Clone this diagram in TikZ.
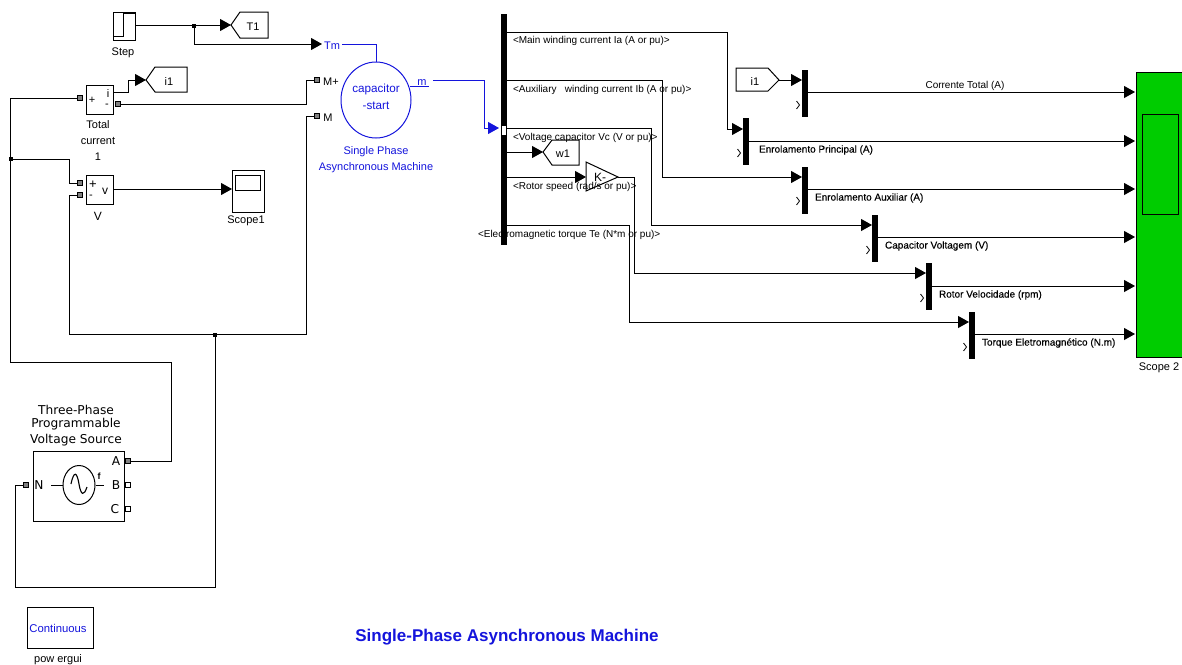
\documentclass[tikz,border=0pt]{standalone}
\usepackage{fontspec}
\setmainfont{Liberation Sans}
\newfontfamily\dejavu{DejaVu Sans}
\usetikzlibrary{arrows.meta,shapes.geometric}
\definecolor{simblue}{RGB}{20,20,220}
\definecolor{simgreen}{RGB}{0,204,0}
\tikzset{
  sig/.style={draw=black,line width=1pt,-{Triangle[length=11pt,width=12pt]}},
  wire/.style={draw=black,line width=1pt},
  bluesig/.style={draw=simblue,line width=1pt,-{Triangle[length=11pt,width=12pt]}},
  bluewire/.style={draw=simblue,line width=1pt},
  block/.style={draw=black,line width=1pt,inner sep=0pt,outer sep=0pt,fill=white},
  bar/.style={fill=black,draw=none,inner sep=0pt,outer sep=0pt,minimum width=6pt},
  port/.style={draw=black,line width=0.8pt,fill=gray,inner sep=0pt,outer sep=0pt,minimum size=4.5pt},
  hport/.style={draw=black,line width=0.8pt,fill=white,inner sep=0pt,outer sep=0pt,minimum size=4.5pt},
  txt/.style={font=\fontsize{11}{12}\selectfont,inner sep=0pt,outer sep=0pt,yshift=-1.5pt},
  lab/.style={font=\fontsize{10}{11}\selectfont,inner sep=0pt,outer sep=0pt,anchor=west,yshift=-1pt},
  blab/.style={font=\fontsize{10}{11}\selectfont\addfontfeature{FakeBold=0.3},inner sep=0pt,outer sep=0pt,anchor=west,yshift=-1pt},
  btxt/.style={txt,text=simblue},
  dtxt/.style={font=\dejavu\fontsize{12.2}{13}\selectfont,inner sep=0pt,outer sep=0pt,yshift=-0.5pt},
  dot/.style={fill=black,inner sep=0pt,minimum size=4pt},
  chev/.style={draw=black,line width=0.8pt},
}
\begin{document}
\begin{tikzpicture}[x=1pt,y=-1pt]
\useasboundingbox (0,0) rectangle (1182,664);
% ---------- left blocks
\node[block,minimum width=22pt,minimum height=28pt] (step) at (124,26) {};
\draw[line width=0.8pt] (113,36)--(123,36)--(123,13)--(135,13);
\node[txt] (steplab) at (123,51) {Step};
\coordinate (t1tip) at (231,25);
\draw[line width=1pt] (231,25)--(240,12)--(268,12)--(268,38)--(240,38)--cycle;
\node[txt] (t1) at (253,25) {T1};
\node[dot] (j1) at (194,26) {};
\coordinate (stepout) at (135,25);
\draw[sig] (stepout) -- (t1tip);

\node[block,minimum width=27pt,minimum height=29pt] (tc) at (100,99.5) {};
\node[txt] (tcplus) at (92,99) {+};
\node[txt] (tci) at (108,92) {i};
\node[txt] (tcminus) at (107,104) {-};
\node[txt] (tcl1) at (98,123) {Total};
\node[txt] (tcl2) at (98,139) {current};
\node[txt] (tcl3) at (98,155) {1};
\node[port] (tcin) at (80,98) {};
\node[port] (tcout) at (118,104) {};
\coordinate (i1tip) at (146,80);
\draw[line width=1pt] (146,80)--(155,67)--(187,67)--(187,92)--(155,92)--cycle;
\node[txt] (i1a) at (169,80) {i1};
\coordinate (tcio) at (114,92);
\coordinate (tcb) at (128,92);
\coordinate (tcc) at (128,80);
\draw[sig] (tcio) -- (tcb) -- (tcc) -- (i1tip);

\node[block,minimum width=27pt,minimum height=29pt] (v) at (100,189.5) {};
\node[txt,font=\fontsize{13}{13}\selectfont] (vplus) at (93,183) {+};
\node[txt] (vminus) at (91,195) {-};
\node[txt,font=\fontsize{12}{12}\selectfont] (vv) at (105,190) {v};
\node[txt,font=\fontsize{12}{12}\selectfont] (vlab) at (98,215) {V};
\node[port] (vp) at (80,183) {};
\node[port] (vm) at (80,195) {};

\node[block,minimum width=32pt,minimum height=42pt] (sc1) at (248,191) {};
\node[draw=black,line width=1pt,inner sep=0pt,minimum width=25pt,minimum height=15pt] (sc1s) at (247.5,182.5) {};
\node[txt] (sc1l) at (246,219) {Scope1};
\coordinate (vout) at (114,189);
\draw[sig] (vout) -- (sc1.west |- vout);

% ---------- machine
\node[draw=simblue,line width=1pt,ellipse,inner sep=0pt,minimum width=70pt,minimum height=76pt] (mach) at (376,100) {};
\node[btxt,font=\fontsize{11.7}{12}\selectfont] (capa) at (376,88) {capacitor};
\node[btxt,font=\fontsize{11.7}{12}\selectfont] (capb) at (376,104) {-start};
\node[btxt] (ml1) at (376,150) {Single Phase};
\node[btxt] (ml2) at (376,166) {Asynchronous Machine};
\node[btxt] (tm) at (332,44) {Tm};
\node[btxt] (mm) at (422,81) {m};
\node[txt] (mplus) at (331,80) {M+};
\node[txt] (mminus) at (328,116) {M};
\node[port] (mpp) at (317,80) {};
\node[port] (mmp) at (317,116) {};
\coordinate (tmtip) at (322,44);
\coordinate (tmr) at (342,44);
\coordinate (tmc) at (376,44);
\draw[bluewire] (tmr) -- (tmc) -- (mach.north);
\coordinate (mo1) at (410,86);
\coordinate (mo2) at (429,86);
\draw[bluewire] (mo1) -- (mo2);
\draw[sig] (j1.center) -- (194,44) -- (tmtip);
\draw[wire] (tcout) -- (306,104) -- (306,80) -- (mpp);

% ---------- bus selector
\node[bar,minimum width=6.5pt,minimum height=231pt] (bus) at (503.8,129.5) {};
\node[fill=white,inner sep=0pt,minimum width=4pt,minimum height=9pt] (busin) at (503.5,130) {};
\coordinate (bustip) at (499,128);
\coordinate (mo3) at (433,80);
\draw[bluesig] (mo3) -- (484,80) -- (484,128) -- (bustip);

\node[lab] (la) at (513,40) {<Main winding current Ia (A or pu)>};
\node[lab] (lb) at (513,89) {<Auxiliary\ \ \ winding current Ib (A or pu)>};
\node[lab] (lc) at (513,137) {<Voltage capacitor Vc (V or pu)>};
\node[lab] (ld) at (513,186) {<Rotor speed (rad/s or pu)>};
\node[lab] (le) at (478,234) {<Electromagnetic torque Te (N*m or pu)>};

% goto w1 and gain
\coordinate (w1tip) at (543,152);
\draw[line width=1pt] (543,152)--(552,140)--(579,140)--(579,165)--(552,165)--cycle;
\node[txt] (w1) at (563,152) {w1};
\draw[line width=1pt,fill=none] (586,162)--(586,191)--(618,177)--cycle;
\coordinate (gin) at (586,177);
\coordinate (gout) at (618,177);
\node[txt,font=\fontsize{12}{12}\selectfont] (k) at (600,176) {K-};
\draw[sig] (bus.east |- w1tip) -- (w1tip);
\draw[sig] (bus.east |- gin) -- (gin);

% ---------- muxes
\node[bar,minimum height=47pt] (m1) at (805,93.5) {};
\node[bar,minimum height=47pt] (m2) at (746,141.5) {};
\node[bar,minimum height=47pt] (m3) at (805,190) {};
\node[bar,minimum height=47pt] (m4) at (875,238.5) {};
\node[bar,minimum height=47pt] (m5) at (929,286.5) {};
\node[bar,minimum height=47pt] (m6) at (972,335) {};
\foreach \x/\y in {798/105,739/153,798/201,868/250,922/298,965/347}
  \draw[chev] (\x-1.5,\y-4) -- (\x+1.5,\y) -- (\x-1.5,\y+4);

% i1 from
\draw[line width=1pt] (736,68)--(768,68)--(779,80)--(768,91)--(736,91)--cycle;
\node[txt] (i1b) at (755,80) {i1};
\coordinate (i1out) at (779,80);
\draw[sig] (i1out) -- (m1.west |- i1out);

% bus to mux wiring
\coordinate (ia0) at (507,32);
\coordinate (ib0) at (507,80);
\coordinate (ic0) at (507,128);
\coordinate (ie0) at (507,225);
\draw[sig] (ia0) -- (727,32) -- (727,129) -- (m2.west |- 0,129);
\draw[sig] (ib0) -- (662,80) -- (662,177) -- (m3.west |- 0,177);
\draw[sig] (ic0) -- (651,128) -- (651,225) -- (m4.west |- 0,225);
\draw[sig] (gout) -- (634,177) -- (634,273) -- (m5.west |- 0,273);
\draw[sig] (ie0) -- (629,225) -- (629,322) -- (m6.west |- 0,322);

% ---------- scope 2
\node[draw=black,line width=1pt,fill=simgreen,inner sep=0pt,anchor=north west,minimum width=50pt,minimum height=285pt] (sc2) at (1136,72) {};
\node[draw=black,line width=1pt,inner sep=0pt,anchor=north west,minimum width=36pt,minimum height=100pt] (sc2s) at (1142,114) {};
\node[txt] (sc2l) at (1159,366) {Scope 2};
\coordinate (s1) at (1135,92);
\coordinate (s2) at (1135,141);
\coordinate (s3) at (1135,189);
\coordinate (s4) at (1135,237);
\coordinate (s5) at (1135,286);
\coordinate (s6) at (1135,334);
\draw[sig] (m1.east |- s1) -- (s1);
\draw[sig] (m2.east |- s2) -- (s2);
\draw[sig] (m3.east |- s3) -- (s3);
\draw[sig] (m4.east |- s4) -- (s4);
\draw[sig] (m5.east |- s5) -- (s5);
\draw[sig] (m6.east |- s6) -- (s6);
\node[lab,anchor=center] (cs1) at (965,85) {Corrente Total (A)};
\node[blab] (cs2) at (759,149) {Enrolamento Principal (A)};
\node[blab] (cs3) at (815,197) {Enrolamento Auxiliar (A)};
\node[blab] (cs4) at (885,245) {Capacitor Voltagem (V)};
\node[blab] (cs5) at (939,294) {Rotor Velocidade (rpm)};
\node[blab] (cs6) at (982,342) {Torque Eletromagnético (N.m)};

% ---------- source
\node[block,minimum width=91pt,minimum height=70pt] (src) at (78.5,486) {};
\node[dtxt] (sl1) at (76,409) {Three-Phase};
\node[dtxt] (sl2) at (76,424) {Programmable};
\node[dtxt] (sl3) at (76,440) {Voltage Source};
\node[dtxt] (sa) at (116,461) {A};
\node[dtxt] (sb) at (116,485) {B};
\node[dtxt] (sc) at (115,509) {C};
\node[dtxt] (sn) at (39,485) {N};
\node[port] (pa) at (128,461) {};
\node[hport] (pb) at (128,485) {};
\node[hport] (pc) at (128,509) {};
\node[port] (pn) at (26,485) {};
\node[draw=black,line width=1pt,ellipse,inner sep=0pt,minimum width=32pt,minimum height=39pt] (sine) at (79,485) {};
\coordinate (l1) at (51,485);
\coordinate (l2) at (104,485);
\draw[line width=1pt] (l1) -- (sine.west);
\draw[line width=1pt] (sine.east) -- (l2);
\draw[line width=1.1pt] (71,484) .. controls (74,470) and (77,472) .. (79,484) .. controls (81,496) and (84,496) .. (87,487);
\node[txt,font=\fontsize{9}{9}\bfseries\selectfont] (sf) at (99,475) {f};

% long wires
\node[dot] (j2) at (11,159) {};
\node[dot] (j3) at (215,335) {};
\coordinate (w1) at (10,362);
\draw[wire] (tcin) -- (10,98) -- (w1) -- (171,362) -- (171,461) -- (pa);
\draw[wire] (j2.center) -- (69,159) -- (69,183) -- (vp);
\draw[wire] (vm) -- (69,195) -- (69,334) -- (306,334) -- (306,116) -- (mmp);
\draw[wire] (j3.center) -- (215,587) -- (15,587) -- (15,485) -- (pn);

% ---------- powergui and title
\node[block,minimum width=66pt,minimum height=41pt] (pg) at (60,627.5) {};
\node[btxt,font=\fontsize{11.3}{12}\selectfont] (pgt) at (58,627) {Continuous};
\node[txt] (pgl) at (58,658) {pow ergui};
\node[txt,text=simblue,font=\fontsize{17}{18}\bfseries\selectfont] (title) at (507,636) {Single-Phase Asynchronous Machine};
\end{tikzpicture}
\end{document}
